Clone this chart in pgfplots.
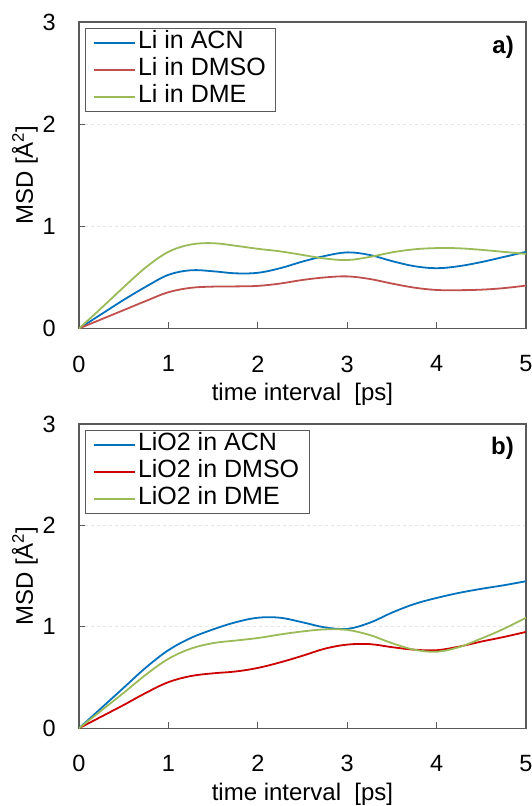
\documentclass[border=0pt]{standalone}
\usepackage{pgfplots}
\pgfplotsset{compat=1.18}
\usepackage{fontspec}
\setmainfont{Liberation Sans}
\definecolor{cblue}{RGB}{0,114,189}
\definecolor{cred}{RGB}{192,80,77}
\definecolor{cred2}{RGB}{204,0,0}
\definecolor{cgreen}{RGB}{155,187,89}
\definecolor{framegray}{RGB}{90,90,90}
\pgfplotsset{
  msd/.style={
    scale only axis, width=447pt,
    xmin=0, xmax=5, ymin=0, ymax=3,
    xtick={0,1,2,3,4,5}, ytick={0,1,2,3},
    tick align=inside, tick pos=left,
    major tick length=6pt,
    axis line style={framegray, line width=1.2pt},
    major tick style={framegray, line width=1.2pt},
    ymajorgrids, grid style={gray!20, dashed, line width=0.8pt},
    /pgf/number format/assume math mode=true,
    tick label style={font=\fontsize{23.5}{26}\selectfont, inner sep=0pt},
    yticklabel style={anchor=east, xshift=-23pt},
    xticklabel style={anchor=north, yshift=-27pt},
    xlabel={time interval\ \ [ps]},
    ylabel={MSD [Å\textsuperscript{2}]},
    label style={font=\fontsize{24}{26}\selectfont, inner sep=0pt},
    xlabel style={at={(axis description cs:0.5,0)}, anchor=north, yshift=-54.5pt},
    ylabel style={at={(axis description cs:0,0.5)}, anchor=center, yshift=54pt},
    legend style={at={(0.013,0.979)}, anchor=north west, draw=framegray, thick,
      font=\fontsize{25}{27}\selectfont, inner xsep=8pt, inner ysep=1pt,
      nodes={inner sep=2pt, text height=17pt, text depth=6pt}, row sep=0pt},
    legend cell align=left,
    legend image code/.code={\draw[#1] (0pt,0pt) -- (41pt,0pt);},
    legend image post style={line width=1.8pt},
    every axis plot/.append style={line width=1.8pt, smooth, tension=0.6},
  }
}
\begin{document}
\begin{tikzpicture}
\begin{axis}[msd, at={(79pt,477.5pt)}, anchor=south west, height=306.5pt]
\addplot[cblue] coordinates {(0,0)(0.25,0.14)(0.5,0.28)(0.75,0.41)(1,0.525)(1.25,0.57)(1.5,0.56)(1.75,0.54)(2,0.545)(2.25,0.59)(2.5,0.655)(2.75,0.71)(3,0.745)(3.25,0.72)(3.5,0.66)(3.75,0.61)(4,0.59)(4.25,0.61)(4.5,0.65)(4.75,0.70)(5,0.75)};
\addlegendentry{Li in ACN}
\addplot[cred] coordinates {(0,0)(0.25,0.09)(0.5,0.18)(0.75,0.27)(1,0.355)(1.25,0.398)(1.5,0.41)(1.75,0.412)(2,0.417)(2.25,0.44)(2.5,0.475)(2.75,0.50)(3,0.51)(3.25,0.485)(3.5,0.44)(3.75,0.40)(4,0.377)(4.25,0.375)(4.5,0.38)(4.75,0.395)(5,0.42)};
\addlegendentry{Li in DMSO}
\addplot[cgreen] coordinates {(0,0)(0.25,0.2)(0.5,0.405)(0.75,0.6)(1,0.75)(1.25,0.822)(1.5,0.835)(1.75,0.81)(2,0.78)(2.25,0.755)(2.5,0.72)(2.75,0.685)(3,0.67)(3.25,0.70)(3.5,0.745)(3.75,0.775)(4,0.787)(4.25,0.785)(4.5,0.77)(4.75,0.75)(5,0.73)};
\addlegendentry{Li in DME}
\node[anchor=east, inner sep=0pt, font=\fontsize{24}{26}\selectfont\bfseries] at (rel axis cs:1,0.917) [xshift=-12pt] {a)};
\end{axis}
\begin{axis}[msd, at={(79pt,77.7pt)}, anchor=south west, height=304.3pt]
\addplot[cblue] coordinates {(0,0)(0.25,0.2)(0.5,0.4)(0.75,0.6)(1,0.77)(1.25,0.89)(1.5,0.975)(1.75,1.045)(2,1.09)(2.25,1.09)(2.5,1.045)(2.75,0.995)(3,0.98)(3.25,1.04)(3.5,1.14)(3.75,1.225)(4,1.285)(4.25,1.335)(4.5,1.375)(4.75,1.41)(5,1.45)};
\addlegendentry{LiO2 in ACN}
\addplot[cred2] coordinates {(0,0)(0.25,0.115)(0.5,0.23)(0.75,0.35)(1,0.455)(1.25,0.515)(1.5,0.542)(1.75,0.56)(2,0.595)(2.25,0.65)(2.5,0.715)(2.75,0.785)(3,0.825)(3.25,0.83)(3.5,0.80)(3.75,0.775)(4,0.77)(4.25,0.805)(4.5,0.855)(4.75,0.90)(5,0.95)};
\addlegendentry{LiO2 in DMSO}
\addplot[cgreen] coordinates {(0,0)(0.25,0.175)(0.5,0.35)(0.75,0.53)(1,0.685)(1.25,0.785)(1.5,0.84)(1.75,0.865)(2,0.89)(2.25,0.925)(2.5,0.955)(2.75,0.975)(3,0.97)(3.25,0.92)(3.5,0.84)(3.75,0.775)(4,0.755)(4.25,0.80)(4.5,0.885)(4.75,0.98)(5,1.09)};
\addlegendentry{LiO2 in DME}
\node[anchor=east, inner sep=0pt, font=\fontsize{24}{26}\selectfont\bfseries] at (rel axis cs:1,0.92) [xshift=-12pt] {b)};
\end{axis}
\pgfresetboundingbox
\path (0pt,0pt) rectangle (532pt,806pt);
\end{tikzpicture}
\end{document}
